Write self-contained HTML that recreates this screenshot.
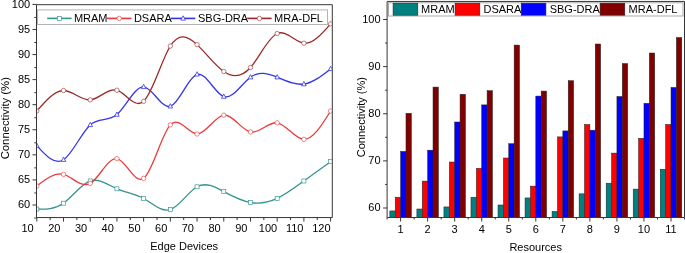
<!DOCTYPE html><html><head><meta charset="utf-8"><style>html,body{margin:0;padding:0;background:#fff;}svg{display:block;will-change:transform;}</style></head><body>
<svg width="685" height="253" viewBox="0 0 685 253" font-family='"Liberation Sans", sans-serif' font-size="11">
<defs><clipPath id="cl"><rect x="37.0" y="5.2" width="294.8" height="211.85000000000002"/></clipPath></defs>
<g clip-path="url(#cl)">
<path d="M36.80,209.01 C45.70,209.27 54.61,209.52 63.51,203.19 C72.41,196.87 81.32,183.97 90.22,180.98 C99.12,177.99 108.03,184.92 116.93,188.80 C125.83,192.68 134.74,193.52 143.64,198.48 C152.54,203.44 161.45,212.53 170.35,209.61 C179.25,206.69 188.16,191.76 197.06,186.80 C205.96,181.83 214.87,186.83 223.77,191.61 C232.67,196.39 241.58,200.97 250.48,202.49 C259.38,204.02 268.29,202.50 277.19,198.38 C286.09,194.26 295.00,187.54 303.90,180.98 C312.80,174.42 321.71,168.02 330.61,161.62" fill="none" stroke="#339490" stroke-width="1.3"/>
<rect x="34.80" y="207.01" width="4" height="4" fill="#fff" stroke="#339490" stroke-width="0.65"/>
<rect x="61.51" y="201.19" width="4" height="4" fill="#fff" stroke="#339490" stroke-width="0.65"/>
<rect x="88.22" y="178.98" width="4" height="4" fill="#fff" stroke="#339490" stroke-width="0.65"/>
<rect x="114.93" y="186.80" width="4" height="4" fill="#fff" stroke="#339490" stroke-width="0.65"/>
<rect x="141.64" y="196.48" width="4" height="4" fill="#fff" stroke="#339490" stroke-width="0.65"/>
<rect x="168.35" y="207.61" width="4" height="4" fill="#fff" stroke="#339490" stroke-width="0.65"/>
<rect x="195.06" y="184.80" width="4" height="4" fill="#fff" stroke="#339490" stroke-width="0.65"/>
<rect x="221.77" y="189.61" width="4" height="4" fill="#fff" stroke="#339490" stroke-width="0.65"/>
<rect x="248.48" y="200.49" width="4" height="4" fill="#fff" stroke="#339490" stroke-width="0.65"/>
<rect x="275.19" y="196.38" width="4" height="4" fill="#fff" stroke="#339490" stroke-width="0.65"/>
<rect x="301.90" y="178.98" width="4" height="4" fill="#fff" stroke="#339490" stroke-width="0.65"/>
<rect x="328.61" y="159.62" width="4" height="4" fill="#fff" stroke="#339490" stroke-width="0.65"/>
<path d="M36.80,185.99 C45.70,179.03 54.61,172.06 63.51,174.41 C72.41,176.75 81.32,188.41 90.22,183.49 C99.12,178.56 108.03,157.06 116.93,158.61 C125.83,160.16 134.74,184.75 143.64,178.32 C152.54,171.89 161.45,134.44 170.35,124.91 C179.25,115.38 188.16,133.79 197.06,133.99 C205.96,134.19 214.87,116.19 223.77,115.18 C232.67,114.17 241.58,130.15 250.48,131.98 C259.38,133.81 268.29,121.48 277.19,122.80 C286.09,124.13 295.00,139.09 303.90,139.40 C312.80,139.71 321.71,125.37 330.61,111.02" fill="none" stroke="#e8393b" stroke-width="1.3"/>
<circle cx="36.80" cy="185.99" r="2.2" fill="#fff" stroke="#e8393b" stroke-width="0.6"/>
<circle cx="63.51" cy="174.41" r="2.2" fill="#fff" stroke="#e8393b" stroke-width="0.6"/>
<circle cx="90.22" cy="183.49" r="2.2" fill="#fff" stroke="#e8393b" stroke-width="0.6"/>
<circle cx="116.93" cy="158.61" r="2.2" fill="#fff" stroke="#e8393b" stroke-width="0.6"/>
<circle cx="143.64" cy="178.32" r="2.2" fill="#fff" stroke="#e8393b" stroke-width="0.6"/>
<circle cx="170.35" cy="124.91" r="2.2" fill="#fff" stroke="#e8393b" stroke-width="0.6"/>
<circle cx="197.06" cy="133.99" r="2.2" fill="#fff" stroke="#e8393b" stroke-width="0.6"/>
<circle cx="223.77" cy="115.18" r="2.2" fill="#fff" stroke="#e8393b" stroke-width="0.6"/>
<circle cx="250.48" cy="131.98" r="2.2" fill="#fff" stroke="#e8393b" stroke-width="0.6"/>
<circle cx="277.19" cy="122.80" r="2.2" fill="#fff" stroke="#e8393b" stroke-width="0.6"/>
<circle cx="303.90" cy="139.40" r="2.2" fill="#fff" stroke="#e8393b" stroke-width="0.6"/>
<circle cx="330.61" cy="111.02" r="2.2" fill="#fff" stroke="#e8393b" stroke-width="0.6"/>
<path d="M36.80,145.62 C45.70,155.50 54.61,165.37 63.51,159.71 C72.41,154.06 81.32,132.87 90.22,124.91 C99.12,116.95 108.03,122.22 116.93,114.58 C125.83,106.94 134.74,86.39 143.64,86.90 C152.54,87.40 161.45,108.95 170.35,106.30 C179.25,103.66 188.16,76.83 197.06,74.31 C205.96,71.79 214.87,93.59 223.77,96.58 C232.67,99.56 241.58,83.72 250.48,77.22 C259.38,70.72 268.29,73.56 277.19,77.22 C286.09,80.87 295.00,85.34 303.90,84.09 C312.80,82.84 321.71,75.86 330.61,68.89" fill="none" stroke="#3535e6" stroke-width="1.3"/>
<path d="M36.80,143.02 L39.10,147.32 L34.50,147.32 Z" fill="#fff" stroke="#3535e6" stroke-width="0.8"/>
<path d="M63.51,157.11 L65.81,161.41 L61.21,161.41 Z" fill="#fff" stroke="#3535e6" stroke-width="0.8"/>
<path d="M90.22,122.31 L92.52,126.61 L87.92,126.61 Z" fill="#fff" stroke="#3535e6" stroke-width="0.8"/>
<path d="M116.93,111.98 L119.23,116.28 L114.63,116.28 Z" fill="#fff" stroke="#3535e6" stroke-width="0.8"/>
<path d="M143.64,84.30 L145.94,88.60 L141.34,88.60 Z" fill="#fff" stroke="#3535e6" stroke-width="0.8"/>
<path d="M170.35,103.70 L172.65,108.00 L168.05,108.00 Z" fill="#fff" stroke="#3535e6" stroke-width="0.8"/>
<path d="M197.06,71.71 L199.36,76.01 L194.76,76.01 Z" fill="#fff" stroke="#3535e6" stroke-width="0.8"/>
<path d="M223.77,93.98 L226.07,98.28 L221.47,98.28 Z" fill="#fff" stroke="#3535e6" stroke-width="0.8"/>
<path d="M250.48,74.62 L252.78,78.92 L248.18,78.92 Z" fill="#fff" stroke="#3535e6" stroke-width="0.8"/>
<path d="M277.19,74.62 L279.49,78.92 L274.89,78.92 Z" fill="#fff" stroke="#3535e6" stroke-width="0.8"/>
<path d="M303.90,81.49 L306.20,85.79 L301.60,85.79 Z" fill="#fff" stroke="#3535e6" stroke-width="0.8"/>
<path d="M330.61,66.29 L332.91,70.59 L328.31,70.59 Z" fill="#fff" stroke="#3535e6" stroke-width="0.8"/>
<path d="M36.80,111.02 C45.70,100.79 54.61,90.56 63.51,90.51 C72.41,90.46 81.32,100.59 90.22,99.89 C99.12,99.18 108.03,87.65 116.93,90.21 C125.83,92.76 134.74,109.42 143.64,101.29 C152.54,93.16 161.45,60.26 170.35,46.02 C179.25,31.79 188.16,36.23 197.06,44.62 C205.96,53.01 214.87,65.36 223.77,71.50 C232.67,77.64 241.58,77.57 250.48,67.49 C259.38,57.41 268.29,37.31 277.19,33.49 C286.09,29.66 295.00,42.11 303.90,43.22 C312.80,44.32 321.71,34.09 330.61,23.86" fill="none" stroke="#9a2a27" stroke-width="1.3"/>
<circle cx="36.80" cy="111.02" r="2.2" fill="#fff" stroke="#9a2a27" stroke-width="0.6"/>
<circle cx="63.51" cy="90.51" r="2.2" fill="#fff" stroke="#9a2a27" stroke-width="0.6"/>
<circle cx="90.22" cy="99.89" r="2.2" fill="#fff" stroke="#9a2a27" stroke-width="0.6"/>
<circle cx="116.93" cy="90.21" r="2.2" fill="#fff" stroke="#9a2a27" stroke-width="0.6"/>
<circle cx="143.64" cy="101.29" r="2.2" fill="#fff" stroke="#9a2a27" stroke-width="0.6"/>
<circle cx="170.35" cy="46.02" r="2.2" fill="#fff" stroke="#9a2a27" stroke-width="0.6"/>
<circle cx="197.06" cy="44.62" r="2.2" fill="#fff" stroke="#9a2a27" stroke-width="0.6"/>
<circle cx="223.77" cy="71.50" r="2.2" fill="#fff" stroke="#9a2a27" stroke-width="0.6"/>
<circle cx="250.48" cy="67.49" r="2.2" fill="#fff" stroke="#9a2a27" stroke-width="0.6"/>
<circle cx="277.19" cy="33.49" r="2.2" fill="#fff" stroke="#9a2a27" stroke-width="0.6"/>
<circle cx="303.90" cy="43.22" r="2.2" fill="#fff" stroke="#9a2a27" stroke-width="0.6"/>
<circle cx="330.61" cy="23.86" r="2.2" fill="#fff" stroke="#9a2a27" stroke-width="0.6"/>
</g>
<path d="M34.30,218.04H36.5M32.50,205.00H36.5M34.30,192.96H36.5M32.50,179.92H36.5M34.30,167.89H36.5M32.50,154.85H36.5M34.30,142.81H36.5M32.50,129.77H36.5M34.30,117.74H36.5M32.50,104.70H36.5M34.30,92.66H36.5M32.50,79.62H36.5M34.30,67.59H36.5M32.50,54.55H36.5M34.30,42.51H36.5M32.50,29.48H36.5M34.30,17.44H36.5M32.50,4.40H36.5M36.80,217.55V221.55M50.15,217.55V220.05M63.51,217.55V221.55M76.86,217.55V220.05M90.22,217.55V221.55M103.57,217.55V220.05M116.93,217.55V221.55M130.28,217.55V220.05M143.64,217.55V221.55M157.00,217.55V220.05M170.35,217.55V221.55M183.70,217.55V220.05M197.06,217.55V221.55M210.41,217.55V220.05M223.77,217.55V221.55M237.12,217.55V220.05M250.48,217.55V221.55M263.83,217.55V220.05M277.19,217.55V221.55M290.54,217.55V220.05M303.90,217.55V221.55M317.25,217.55V220.05M330.61,217.55V221.55" stroke="#363636" stroke-width="1" fill="none"/>
<path d="M36.5,4.7V217.55H332.3" stroke="#363636" stroke-width="1" fill="none"/>
<path d="M36.5,4.7H332.3V217.55" stroke="#363636" stroke-width="1" fill="none"/>
<text x="30.2" y="208.10" text-anchor="end">60</text>
<text x="30.2" y="183.02" text-anchor="end">65</text>
<text x="30.2" y="157.95" text-anchor="end">70</text>
<text x="30.2" y="132.87" text-anchor="end">75</text>
<text x="30.2" y="107.80" text-anchor="end">80</text>
<text x="30.2" y="82.72" text-anchor="end">85</text>
<text x="30.2" y="57.65" text-anchor="end">90</text>
<text x="30.2" y="32.58" text-anchor="end">95</text>
<text x="30.2" y="7.50" text-anchor="end">100</text>
<text x="27.60" y="232.3" text-anchor="middle">10</text>
<text x="54.31" y="232.3" text-anchor="middle">20</text>
<text x="81.02" y="232.3" text-anchor="middle">30</text>
<text x="107.73" y="232.3" text-anchor="middle">40</text>
<text x="134.44" y="232.3" text-anchor="middle">50</text>
<text x="161.15" y="232.3" text-anchor="middle">60</text>
<text x="187.86" y="232.3" text-anchor="middle">70</text>
<text x="214.57" y="232.3" text-anchor="middle">80</text>
<text x="241.28" y="232.3" text-anchor="middle">90</text>
<text x="267.99" y="232.3" text-anchor="middle">100</text>
<text x="294.70" y="232.3" text-anchor="middle">110</text>
<text x="321.41" y="232.3" text-anchor="middle">120</text>
<text x="184.2" y="250.4" text-anchor="middle">Edge Devices</text>
<text transform="translate(8.8,118.2) rotate(-90)" text-anchor="middle" font-size="11.3">Connectivity (%)</text>
<rect x="37.5" y="9.9" width="290" height="14.6" fill="#fff" stroke="#b4b4b4" stroke-width="1"/>
<path d="M47.2,18.4H71.6" stroke="#339490" stroke-width="1.6"/>
<rect x="57.40" y="16.40" width="4" height="4" fill="#fff" stroke="#339490" stroke-width="0.65"/>
<text x="73.9" y="21.9">MRAM</text>
<path d="M107.0,18.4H131.4" stroke="#e8393b" stroke-width="1.6"/>
<circle cx="119.20" cy="18.40" r="2.2" fill="#fff" stroke="#e8393b" stroke-width="0.6"/>
<text x="133.9" y="21.9">DSARA</text>
<path d="M170.9,18.4H195.3" stroke="#3535e6" stroke-width="1.6"/>
<path d="M183.10,15.80 L185.40,20.10 L180.80,20.10 Z" fill="#fff" stroke="#3535e6" stroke-width="0.8"/>
<text x="198.0" y="21.9">SBG-DRA</text>
<path d="M247.2,18.4H271.59999999999997" stroke="#9a2a27" stroke-width="1.6"/>
<circle cx="259.40" cy="18.40" r="2.2" fill="#fff" stroke="#9a2a27" stroke-width="0.6"/>
<text x="274.09999999999997" y="21.9">MRA-DFL</text>
<rect x="389.84" y="210.92" width="5.38" height="6.58" fill="#008080" stroke="#222" stroke-width="0.5"/>
<rect x="395.22" y="197.21" width="5.38" height="20.29" fill="#ff0000" stroke="#222" stroke-width="0.5"/>
<rect x="400.60" y="151.40" width="5.38" height="66.10" fill="#0000ff" stroke="#222" stroke-width="0.5"/>
<rect x="405.98" y="113.28" width="5.38" height="104.22" fill="#800000" stroke="#222" stroke-width="0.5"/>
<rect x="416.88" y="208.99" width="5.38" height="8.51" fill="#008080" stroke="#222" stroke-width="0.5"/>
<rect x="422.26" y="181.09" width="5.38" height="36.41" fill="#ff0000" stroke="#222" stroke-width="0.5"/>
<rect x="427.64" y="150.18" width="5.38" height="67.32" fill="#0000ff" stroke="#222" stroke-width="0.5"/>
<rect x="433.02" y="87.08" width="5.38" height="130.42" fill="#800000" stroke="#222" stroke-width="0.5"/>
<rect x="443.92" y="206.92" width="5.38" height="10.58" fill="#008080" stroke="#222" stroke-width="0.5"/>
<rect x="449.30" y="162.01" width="5.38" height="55.49" fill="#ff0000" stroke="#222" stroke-width="0.5"/>
<rect x="454.68" y="122.00" width="5.38" height="95.50" fill="#0000ff" stroke="#222" stroke-width="0.5"/>
<rect x="460.06" y="94.29" width="5.38" height="123.21" fill="#800000" stroke="#222" stroke-width="0.5"/>
<rect x="470.96" y="197.21" width="5.38" height="20.29" fill="#008080" stroke="#222" stroke-width="0.5"/>
<rect x="476.34" y="168.32" width="5.38" height="49.18" fill="#ff0000" stroke="#222" stroke-width="0.5"/>
<rect x="481.72" y="104.89" width="5.38" height="112.61" fill="#0000ff" stroke="#222" stroke-width="0.5"/>
<rect x="487.10" y="90.71" width="5.38" height="126.79" fill="#800000" stroke="#222" stroke-width="0.5"/>
<rect x="498.00" y="204.98" width="5.38" height="12.52" fill="#008080" stroke="#222" stroke-width="0.5"/>
<rect x="503.38" y="158.00" width="5.38" height="59.50" fill="#ff0000" stroke="#222" stroke-width="0.5"/>
<rect x="508.76" y="143.72" width="5.38" height="73.78" fill="#0000ff" stroke="#222" stroke-width="0.5"/>
<rect x="514.14" y="45.09" width="5.38" height="172.41" fill="#800000" stroke="#222" stroke-width="0.5"/>
<rect x="525.04" y="197.92" width="5.38" height="19.58" fill="#008080" stroke="#222" stroke-width="0.5"/>
<rect x="530.42" y="186.13" width="5.38" height="31.37" fill="#ff0000" stroke="#222" stroke-width="0.5"/>
<rect x="535.80" y="96.08" width="5.38" height="121.42" fill="#0000ff" stroke="#222" stroke-width="0.5"/>
<rect x="541.18" y="91.08" width="5.38" height="126.42" fill="#800000" stroke="#222" stroke-width="0.5"/>
<rect x="552.08" y="211.39" width="5.38" height="6.11" fill="#008080" stroke="#222" stroke-width="0.5"/>
<rect x="557.46" y="136.89" width="5.38" height="80.61" fill="#ff0000" stroke="#222" stroke-width="0.5"/>
<rect x="562.84" y="130.90" width="5.38" height="86.60" fill="#0000ff" stroke="#222" stroke-width="0.5"/>
<rect x="568.22" y="80.72" width="5.38" height="136.78" fill="#800000" stroke="#222" stroke-width="0.5"/>
<rect x="579.12" y="193.82" width="5.38" height="23.68" fill="#008080" stroke="#222" stroke-width="0.5"/>
<rect x="584.50" y="124.49" width="5.38" height="93.01" fill="#ff0000" stroke="#222" stroke-width="0.5"/>
<rect x="589.88" y="130.20" width="5.38" height="87.30" fill="#0000ff" stroke="#222" stroke-width="0.5"/>
<rect x="595.26" y="44.01" width="5.38" height="173.49" fill="#800000" stroke="#222" stroke-width="0.5"/>
<rect x="606.16" y="183.21" width="5.38" height="34.29" fill="#008080" stroke="#222" stroke-width="0.5"/>
<rect x="611.54" y="153.10" width="5.38" height="64.40" fill="#ff0000" stroke="#222" stroke-width="0.5"/>
<rect x="616.92" y="96.50" width="5.38" height="121.00" fill="#0000ff" stroke="#222" stroke-width="0.5"/>
<rect x="622.30" y="63.56" width="5.38" height="153.94" fill="#800000" stroke="#222" stroke-width="0.5"/>
<rect x="633.20" y="189.10" width="5.38" height="28.40" fill="#008080" stroke="#222" stroke-width="0.5"/>
<rect x="638.58" y="138.30" width="5.38" height="79.20" fill="#ff0000" stroke="#222" stroke-width="0.5"/>
<rect x="643.96" y="103.34" width="5.38" height="114.16" fill="#0000ff" stroke="#222" stroke-width="0.5"/>
<rect x="649.34" y="53.01" width="5.38" height="164.49" fill="#800000" stroke="#222" stroke-width="0.5"/>
<rect x="660.24" y="169.22" width="5.38" height="48.28" fill="#008080" stroke="#222" stroke-width="0.5"/>
<rect x="665.62" y="124.45" width="5.38" height="93.05" fill="#ff0000" stroke="#222" stroke-width="0.5"/>
<rect x="671.00" y="87.41" width="5.38" height="130.09" fill="#0000ff" stroke="#222" stroke-width="0.5"/>
<rect x="676.38" y="37.60" width="5.38" height="179.90" fill="#800000" stroke="#222" stroke-width="0.5"/>
<path d="M383.10,208.00H387.1M385.10,184.44H387.1M383.10,160.88H387.1M385.10,137.31H387.1M383.10,113.75H387.1M385.10,90.19H387.1M383.10,66.62H387.1M385.10,43.06H387.1M383.10,19.50H387.1M387.08,217.5V219.50M400.60,217.5V221.50M414.12,217.5V219.50M427.64,217.5V221.50M441.16,217.5V219.50M454.68,217.5V221.50M468.20,217.5V219.50M481.72,217.5V221.50M495.24,217.5V219.50M508.76,217.5V221.50M522.28,217.5V219.50M535.80,217.5V221.50M549.32,217.5V219.50M562.84,217.5V221.50M576.36,217.5V219.50M589.88,217.5V221.50M603.40,217.5V219.50M616.92,217.5V221.50M630.44,217.5V219.50M643.96,217.5V221.50M657.48,217.5V219.50M671.00,217.5V221.50M684.52,217.5V219.50" stroke="#363636" stroke-width="1" fill="none"/>
<path d="M387.1,1.45V217.5H684.5" stroke="#363636" stroke-width="1" fill="none"/>
<path d="M387.1,1.45H684.5V217.5" stroke="#363636" stroke-width="1" fill="none"/>
<text x="380.6" y="211.40" text-anchor="end">60</text>
<text x="380.6" y="164.28" text-anchor="end">70</text>
<text x="380.6" y="117.15" text-anchor="end">80</text>
<text x="380.6" y="70.03" text-anchor="end">90</text>
<text x="380.6" y="22.90" text-anchor="end">100</text>
<text x="400.60" y="232.8" text-anchor="middle">1</text>
<text x="427.64" y="232.8" text-anchor="middle">2</text>
<text x="454.68" y="232.8" text-anchor="middle">3</text>
<text x="481.72" y="232.8" text-anchor="middle">4</text>
<text x="508.76" y="232.8" text-anchor="middle">5</text>
<text x="535.80" y="232.8" text-anchor="middle">6</text>
<text x="562.84" y="232.8" text-anchor="middle">7</text>
<text x="589.88" y="232.8" text-anchor="middle">8</text>
<text x="616.92" y="232.8" text-anchor="middle">9</text>
<text x="643.96" y="232.8" text-anchor="middle">10</text>
<text x="671.00" y="232.8" text-anchor="middle">11</text>
<text x="535.7" y="250.9" text-anchor="middle">Resources</text>
<text transform="translate(364.5,117.2) rotate(-90)" text-anchor="middle">Connectivity (%)</text>
<rect x="388.5" y="2.8" width="294.5" height="13.2" fill="#fff" stroke="#aaa" stroke-width="1"/>
<rect x="393.1" y="3.2" width="24.7" height="12" fill="#008080" stroke="#222" stroke-width="0.6"/>
<text x="421.1" y="13.3">MRAM</text>
<rect x="455.1" y="3.2" width="24.7" height="12" fill="#ff0000" stroke="#222" stroke-width="0.6"/>
<text x="483.5" y="13.3">DSARA</text>
<rect x="521.2" y="3.2" width="24.7" height="12" fill="#0000ff" stroke="#222" stroke-width="0.6"/>
<text x="549.7" y="13.3">SBG-DRA</text>
<rect x="600.1" y="3.2" width="24.7" height="12" fill="#800000" stroke="#222" stroke-width="0.6"/>
<text x="628.6" y="13.3">MRA-DFL</text>
</svg></body></html>
